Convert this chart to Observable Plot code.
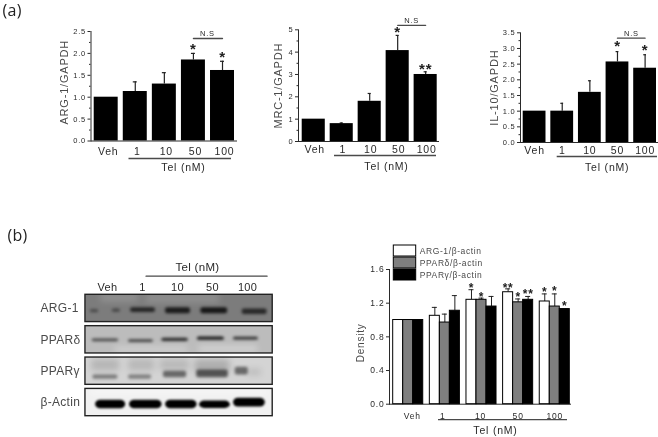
<!DOCTYPE html>
<html><head><meta charset="utf-8">
<script src="https://cdn.jsdelivr.net/npm/d3@7"></script>
<script src="https://cdn.jsdelivr.net/npm/@observablehq/plot@0.6"></script>
<style>
html,body{margin:0;padding:0;background:#fff}
#chart{position:relative;width:658px;height:437px;overflow:hidden;filter:blur(0.45px)}
#chart svg{position:absolute;left:0;top:0;max-width:none;overflow:visible}
</style></head><body><div id="chart"></div>
<script>
const doses = ["Veh","1","10","50","100"];
const arg1Means = [1,1.13,1.3,1.85,1.61];
const arg1Tops  = [1,1.35,1.56,2.0,1.82];
const arg1Stars = [{dose:"50",y:2.13,text:"*"},{dose:"100",y:1.95,text:"*"}];
const mrc1Means = [1,0.8,1.8,4.07,3.0];
const mrc1Tops  = [1,0.83,2.15,4.75,3.12];
const mrc1Stars = [{dose:"50",y:4.97,text:"*"},{dose:"100",y:3.32,text:"**"}];
const il10Means = [1,1,1.6,2.57,2.37];
const il10Tops  = [1,1.25,1.97,2.9,2.8];
const il10Stars = [{dose:"50",y:3.13,text:"*"},{dose:"100",y:3.0,text:"*"}];

const series = ["ARG-1/β-actin","PPARδ/β-actin","PPARγ/β-actin"];
const seriesColors = ["#ffffff","#7f7f7f","#000000"];
const densityMeans = [[1,1,1],[1.05,0.97,1.11],[1.24,1.24,1.16],[1.33,1.21,1.24],[1.22,1.16,1.13]];
const densityTops  = [[1,1,1],[1.15,1.07,1.29],[1.36,1.26,1.28],[1.37,1.25,1.28],[1.31,1.31,1.13]];
const densityStars = [
  {dose:"10",s:0,y:1.41,text:"*"},{dose:"10",s:1,y:1.30,text:"*"},
  {dose:"50",s:0,y:1.41,text:"**"},{dose:"50",s:1,y:1.30,text:"*"},{dose:"50",s:2,y:1.34,text:"**"},
  {dose:"100",s:0,y:1.36,text:"*"},{dose:"100",s:1,y:1.37,text:"*"},{dose:"100",s:2,y:1.19,text:"*"}
];

const proteins = ["ARG-1","PPARδ","PPARγ","β-Actin"];
const panelTones = ["#7c7c7c","#bcbcbc","#d4d4d4","#f1f1f1"];
// gel bands: panel index, lane extent, relative position in the panel, thickness, darkness
const sharpBands = [
  [0,-0.49,-0.25,.60,.12,.4],[0,0.14,0.37,.58,.12,.45],[0,0.66,1.37,.56,.17,.7],[0,1.66,2.37,.58,.22,.78],[0,2.67,3.43,.58,.22,.82],[0,3.85,4.56,.62,.2,.68],
  [1,-0.44,0.32,.52,.1,.62],[1,0.6,1.31,.55,.1,.65],[1,1.55,2.31,.5,.12,.78],[1,2.57,3.34,.46,.12,.88],[1,3.6,4.31,.46,.1,.78],
  [2,-0.42,0.3,.72,.16,.42],[2,0.6,1.26,.72,.16,.4],[2,1.6,2.26,.62,.24,.5],[2,2.55,3.45,.6,.28,.58],[2,3.65,4.02,.5,.28,.5]
];
const diffuseBands = [
  [2,-0.46,0.35,.28,.42,.14],[2,0.6,1.35,.28,.42,.13],[2,1.5,2.35,.28,.42,.12],[2,2.5,3.5,.33,.48,.18],[2,4.0,4.4,.55,.22,.12]
];
const lightPatches = [
  [0,-0.2,0.9,.12,.3,.16],[0,1.1,3.2,.15,.35,.14],[1,0.2,2.3,.86,.14,.45],[1,2.6,4.3,.84,.14,.55],[3,-0.5,4.6,.12,.14,.5]
];
const actinBands = [
  [3,-0.34,0.52,.57,.31,1],[3,0.63,1.56,.57,.31,1],[3,1.66,2.56,.57,.31,1],[3,2.63,3.51,.58,.27,1],[3,3.6,4.51,.5,.32,1]
];

const chart = document.getElementById("chart");
const W = 658, H = 437;
const ink = "#2a2a2a", soft = "#4a4a4a";
const baseStyle = {background:"transparent",fontFamily:"'Liberation Sans',Arial,sans-serif",letterSpacing:"0.3px"};

function barPanel(c){
  const rows = doses.map((d,i)=>({dose:d,mean:c.means[i],top:c.tops[i]}));
  const errs = rows.filter(r=>r.top>r.mean);
  const mid = (c.left+c.right)/2;
  const plot = Plot.plot({
    width:W,height:H,marginLeft:c.left,marginRight:W-c.right,marginTop:c.top,marginBottom:H-c.bottom,
    style:{...baseStyle,letterSpacing:"0.8px"},
    x:{domain:doses,range:c.barRange,paddingInner:.175,paddingOuter:0,round:false,axis:null},
    y:{domain:[0,c.max],axis:null},
    marks:[
      Plot.axisY(c.ticks,{tickSize:3,tickPadding:2,fontSize:7.5,tickFormat:c.format,color:ink,label:null}),
      Plot.axisY(c.minor,{tickSize:1.5,tickFormat:()=>"",color:ink,label:null}),
      Plot.ruleX(errs,{x:"dose",y1:"mean",y2:"top",stroke:"#222",strokeWidth:1.2}),
      Plot.tickY(errs,{x:"dose",y:"top",stroke:"#222",strokeWidth:1.2,insetLeft:10,insetRight:10}),
      Plot.barY(rows,{x:"dose",y:"mean",fill:"#000"}),
      Plot.frame({anchor:"left",stroke:ink,strokeWidth:1}),
      Plot.frame({anchor:"bottom",stroke:ink,strokeWidth:1}),
      Plot.text(doses,{x:d=>d,frameAnchor:"bottom",dx:c.labelDx,dy:c.labelDy,fontSize:10.5,fill:ink,lineAnchor:"middle"}),
      Plot.ruleY([0],{stroke:soft,strokeWidth:1.3,insetLeft:c.telInset[0],insetRight:c.telInset[1],dy:c.telLineDy}),
      Plot.text(["Tel (nM)"],{frameAnchor:"bottom",dx:c.telX-mid,dy:c.telDy,fontSize:10.5,fill:ink,lineAnchor:"middle"}),
      Plot.line(["50","100"],{x:d=>d,y:()=>c.nsY,stroke:soft,strokeWidth:1.3}),
      Plot.text(["N.S"],{x:()=>"50",y:()=>c.nsY,dx:c.nsDx,dy:-4.5,fontSize:7.5,fill:ink}),
      Plot.text(c.stars,{x:"dose",y:"y",text:"text",fontSize:15,fontWeight:"bold",fill:"#222",dy:1.5}),
      Plot.text([c.label],{frameAnchor:"left",textAnchor:"middle",rotate:-90,dx:c.labelX-c.left,dy:c.labelOff,fontSize:11,fill:soft})
    ]
  });
  chart.appendChild(plot);
}
barPanel({means:arg1Means,tops:arg1Tops,stars:arg1Stars,max:2.5,ticks:d3.range(0,2.51,.5),minor:d3.range(.25,2.5,.5),format:".1f",
  left:90.5,right:236,top:31,bottom:140.5,barRange:[93.7,234],labelDx:2,labelDy:10.5,telInset:[38,5],telLineDy:17.5,telX:183,telDy:26.5,nsY:2.34,nsDx:14,label:"ARG-1/GAPDH",labelX:64,labelOff:-4});
barPanel({means:mrc1Means,tops:mrc1Tops,stars:mrc1Stars,max:5,ticks:d3.range(0,5.1,1),minor:d3.range(.5,5,1),format:"d",
  left:298,right:438,top:29.3,bottom:141,barRange:[301.7,436.7],labelDx:1,labelDy:8.5,telInset:[36,2],telLineDy:14,telX:386,telDy:25,nsY:5.2,nsDx:14,label:"MRC-1/GAPDH",labelX:277.5,labelOff:0});
barPanel({means:il10Means,tops:il10Tops,stars:il10Stars,max:3.5,ticks:d3.range(0,3.51,.5),minor:d3.range(.25,3.5,.5),format:".1f",
  left:520,right:657,top:32.3,bottom:142,barRange:[522.7,656],labelDx:0,labelDy:8.5,telInset:[36.7,0],telLineDy:14,telX:606.7,telDy:25,nsY:3.33,nsDx:14,label:"IL-10/GAPDH",labelX:494,labelOff:0});

// density grouped bars: axes and shared labels
const densityRows = doses.flatMap((d,i)=>series.map((s,j)=>({dose:d,series:s,mean:densityMeans[i][j],top:densityTops[i][j],color:seriesColors[j]})));
const starRows = densityStars.map(s=>({...s,series:series[s.s]}));
const densityBox = {width:W,height:H,marginLeft:389,marginRight:W-570,marginTop:269,marginBottom:H-403.7};
chart.appendChild(Plot.plot({
  ...densityBox,
  style:{...baseStyle,letterSpacing:"0.8px"},
  y:{domain:[0,1.6],axis:null},
  marks:[
    Plot.axisY(d3.range(0,1.61,.4),{tickSize:3,tickPadding:2,fontSize:8.5,tickFormat:".1f",color:ink,label:null}),
    Plot.frame({anchor:"left",stroke:ink,strokeWidth:1}),
    Plot.frame({anchor:"bottom",stroke:ink,strokeWidth:1}),
    Plot.ruleY([0],{stroke:soft,strokeWidth:1.3,insetLeft:49,insetRight:3,dy:15.5}),
    Plot.text(["Tel (nM)"],{frameAnchor:"bottom",dx:15.5,dy:26.5,fontSize:10.5,fill:ink,lineAnchor:"middle"}),
    Plot.text(["Density"],{frameAnchor:"left",textAnchor:"middle",rotate:-90,dx:-29,dy:6,fontSize:10,fill:soft})
  ]
}));
// density grouped bars: the bars
const doseLabelShift = [4,-2,-1,0,0];
chart.appendChild(Plot.plot({
  ...densityBox,
  style:{...baseStyle,letterSpacing:"0.8px"},
  fx:{domain:doses,paddingInner:.18,paddingOuter:.06,align:.84,round:false,axis:null},
  x:{domain:series,padding:0,round:false,axis:null},
  y:{domain:[0,1.6],axis:null},
  color:{type:"identity"},
  marks:[
    Plot.ruleX(densityRows.filter(r=>r.top>r.mean),{fx:"dose",x:"series",y1:"mean",y2:"top",stroke:"#222",strokeWidth:1}),
    Plot.tickY(densityRows.filter(r=>r.top>r.mean),{fx:"dose",x:"series",y:"top",stroke:"#222",strokeWidth:1,insetLeft:2.5,insetRight:2.5}),
    Plot.barY(densityRows,{fx:"dose",x:"series",y:"mean",fill:"color",stroke:"#000",strokeWidth:1}),
    Plot.text(starRows,{fx:"dose",x:"series",y:"y",text:"text",fontSize:12,fontWeight:"bold",fill:"#222",dy:2.5}),
    ...doses.map((d,i)=>Plot.text([d],{fx:()=>d,frameAnchor:"bottom",dx:doseLabelShift[i],dy:12,fontSize:8.5,fill:ink,lineAnchor:"middle",textAnchor:"middle",text:t=>t}))
  ]
}));

// legend
chart.appendChild(Plot.plot({
  width:W,height:H,margin:0,style:{...baseStyle,letterSpacing:"0.6px"},
  x:{domain:[0,1],range:[393.3,415.7],axis:null},
  y:{domain:series,range:[244,281.5],padding:.1,axis:null},
  color:{type:"identity"},
  marks:[
    Plot.barX(series,{x1:()=>0,x2:()=>1,y:d=>d,fill:(d,i)=>seriesColors[i],stroke:"#000",strokeWidth:1}),
    Plot.text(series,{x:()=>1,y:d=>d,dx:3.5,textAnchor:"start",fontSize:8.5,fill:soft})
  ]
}));

// western blot
const panelHeight = .87;
const toRows = list => list.map(([p,a,b,pos,t,dark])=>({x1:a,x2:b,y1:p+(pos-t/2)*panelHeight,y2:p+(pos+t/2)*panelHeight,dark}));
const panelRows = proteins.map((name,i)=>({name,i,tone:panelTones[i],y1:i,y2:i+panelHeight}));
const bandMark = (list,fill,rx,blur)=>Plot.rect(toRows(list),{x1:"x1",x2:"x2",y1:"y1",y2:"y2",fill,fillOpacity:"dark",rx,imageFilter:`blur(${blur}px)`});
chart.appendChild(Plot.plot({
  width:W,height:H,margin:0,style:baseStyle,
  x:{domain:[0,4],range:[107,247],axis:null},
  y:{domain:[0,3+panelHeight],range:[294.3,415.7],axis:null},
  color:{type:"identity"},
  marks:[
    Plot.rect(panelRows,{x1:()=>-0.63,x2:()=>4.72,y1:"y1",y2:"y2",fill:"tone"}),
    bandMark(lightPatches,"#fff",2,3),
    bandMark(diffuseBands,"#000",3,3),
    bandMark(sharpBands,"#000",2,1.4),
    bandMark(actinBands,"#000",5,0.8),
    Plot.rect(panelRows,{x1:()=>-0.63,x2:()=>4.72,y1:"y1",y2:"y2",fill:"none",stroke:"#222",strokeWidth:1.4}),
    Plot.text(proteins,{y:(d,i)=>i+panelHeight/2,frameAnchor:"left",dx:40,textAnchor:"start",fontSize:12,fill:soft}),
    Plot.text(doses,{x:(d,i)=>i,y:()=>0,dy:-7,fontSize:11,fill:ink}),
    Plot.line([1.1,4.56],{x:d=>d,y:()=>0,dy:-18.6,stroke:soft,strokeWidth:1.2}),
    Plot.text(["Tel (nM)"],{x:()=>2.57,y:()=>0,dy:-27.6,fontSize:11.5,fill:ink}),
    Plot.text(["(a)"],{frameAnchor:"top-left",dx:2,dy:10,fontSize:16,lineAnchor:"middle",fill:"#222",fontFamily:"'Open Sans',sans-serif"}),
    Plot.text(["(b)"],{frameAnchor:"top-left",dx:7,dy:235,fontSize:16,lineAnchor:"middle",fill:"#222",fontFamily:"'Open Sans',sans-serif"})
  ]
}));
</script></body></html>
